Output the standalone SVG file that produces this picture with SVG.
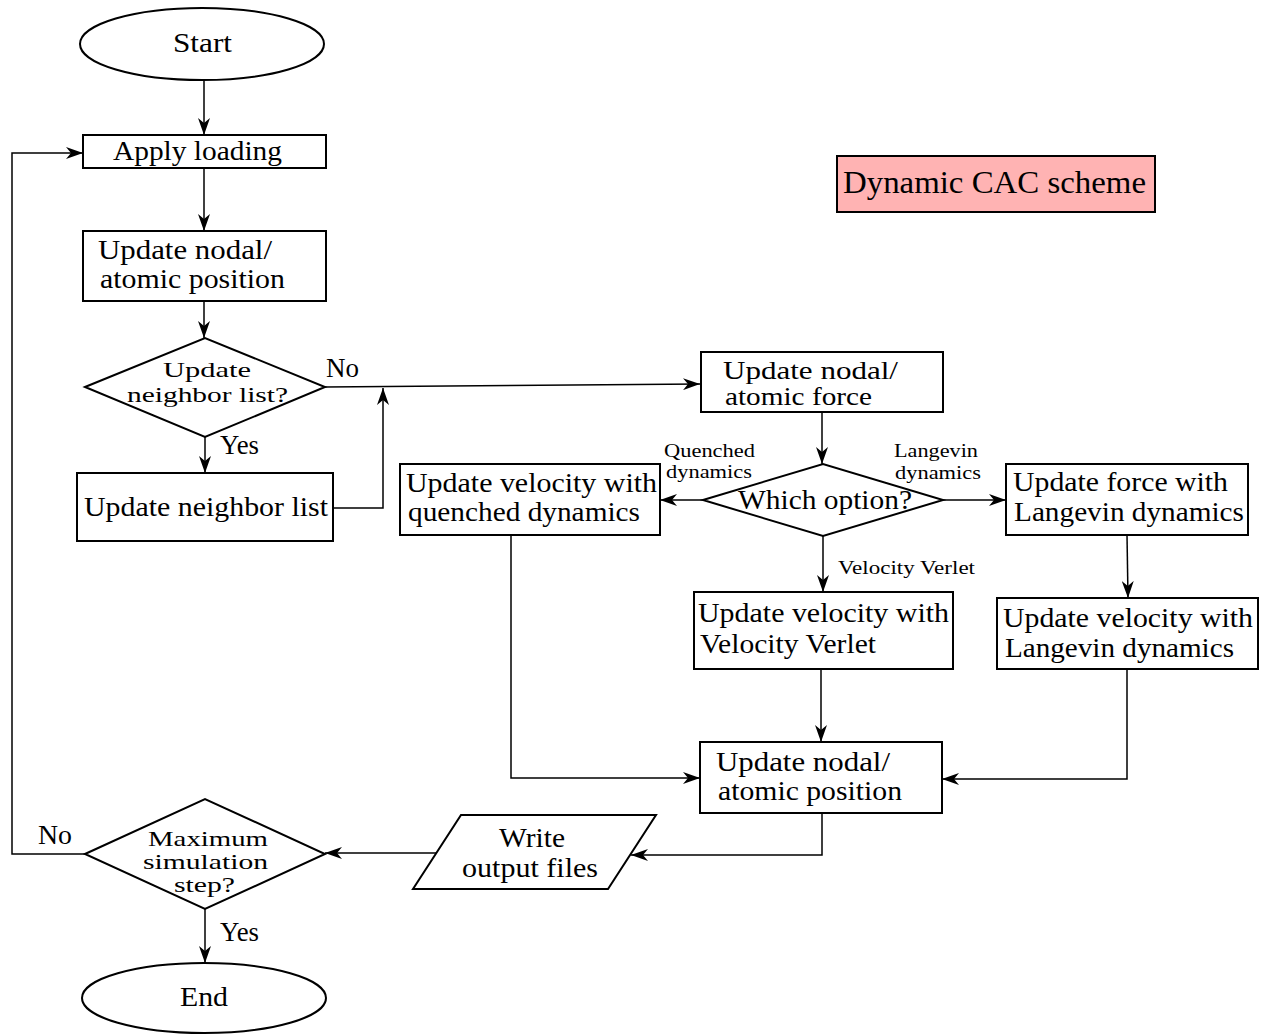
<svg xmlns="http://www.w3.org/2000/svg" width="1262" height="1034" viewBox="0 0 1262 1034">
<style>
.n{fill:#fff;stroke:#000;stroke-width:2}
.t{font-family:"Liberation Serif","Times New Roman",serif;font-size:28px;fill:#000}
.f{font-family:"Liberation Serif","Times New Roman",serif;font-size:25px;fill:#000}
.d{font-family:"Liberation Serif","Times New Roman",serif;font-size:22px;fill:#000}
.s{font-family:"Liberation Serif","Times New Roman",serif;font-size:19px;fill:#000}
.c{fill:none;stroke:#000;stroke-width:1.5}
</style>
<defs>
<marker id="arr" viewBox="0 0 17 12" refX="17" refY="6" markerWidth="17" markerHeight="12" markerUnits="userSpaceOnUse" orient="auto">
<path d="M0,0 L17,6 L0,12 L5,6 z" fill="#000"/>
</marker>
</defs>
<rect width="1262" height="1034" fill="#fff"/>
<g id="connectors">
<path class="c" d="M204,80 V135" marker-end="url(#arr)"/>
<path class="c" d="M204,168 V231" marker-end="url(#arr)"/>
<path class="c" d="M204,301 V338" marker-end="url(#arr)"/>
<path class="c" d="M325,387 L700,384" marker-end="url(#arr)"/>
<path class="c" d="M205,437 V473" marker-end="url(#arr)"/>
<path class="c" d="M333,508 H383 V388" marker-end="url(#arr)"/>
<path class="c" d="M822,412 V464" marker-end="url(#arr)"/>
<path class="c" d="M703,500 H660" marker-end="url(#arr)"/>
<path class="c" d="M943,500 H1006" marker-end="url(#arr)"/>
<path class="c" d="M823,536 V592" marker-end="url(#arr)"/>
<path class="c" d="M1127,535 L1128,598" marker-end="url(#arr)"/>
<path class="c" d="M511,535 V778 H700" marker-end="url(#arr)"/>
<path class="c" d="M821,669 V742" marker-end="url(#arr)"/>
<path class="c" d="M1127,669 V779 H942" marker-end="url(#arr)"/>
<path class="c" d="M822,813 V855 H631" marker-end="url(#arr)"/>
<path class="c" d="M436,853 H325" marker-end="url(#arr)"/>
<path class="c" d="M85,854 H12 V153 H83" marker-end="url(#arr)"/>
<path class="c" d="M205,909 V963" marker-end="url(#arr)"/>
<text class="t" x="326" y="377" textLength="33" lengthAdjust="spacingAndGlyphs">No</text>
<text class="t" x="220" y="454" textLength="39" lengthAdjust="spacingAndGlyphs">Yes</text>
<text class="s" x="664" y="457" textLength="91" lengthAdjust="spacingAndGlyphs">Quenched</text>
<text class="s" x="666" y="478" textLength="86" lengthAdjust="spacingAndGlyphs">dynamics</text>
<text class="s" x="894" y="457" textLength="84" lengthAdjust="spacingAndGlyphs">Langevin</text>
<text class="s" x="895" y="479" textLength="86" lengthAdjust="spacingAndGlyphs">dynamics</text>
<text class="s" x="838" y="574" textLength="137" lengthAdjust="spacingAndGlyphs">Velocity Verlet</text>
<text class="t" x="38" y="844" textLength="34" lengthAdjust="spacingAndGlyphs">No</text>
<text class="t" x="220" y="941" textLength="39" lengthAdjust="spacingAndGlyphs">Yes</text>
</g>
<g id="start">
<ellipse class="n" cx="202" cy="44" rx="122" ry="36"/>
<text class="t" x="173" y="52" textLength="59" lengthAdjust="spacingAndGlyphs">Start</text>
</g>
<g id="apply">
<rect class="n" x="83" y="135" width="243" height="33" stroke-width="1.5"/>
<text class="t" x="113" y="160" textLength="169" lengthAdjust="spacingAndGlyphs">Apply loading</text>
</g>
<g id="pos1">
<rect class="n" x="83" y="231" width="243" height="70"/>
<text class="t" x="98" y="259" textLength="174" lengthAdjust="spacingAndGlyphs">Update nodal/</text>
<text class="t" x="100" y="288" textLength="185" lengthAdjust="spacingAndGlyphs">atomic position</text>
</g>
<g id="dec1">
<polygon class="n" points="85,387 205,338 325,387 205,437"/>
<text class="d" x="163" y="377" textLength="88" lengthAdjust="spacingAndGlyphs">Update</text>
<text class="d" x="127" y="402" textLength="161" lengthAdjust="spacingAndGlyphs">neighbor list?</text>
</g>
<g id="neigh">
<rect class="n" x="77" y="473" width="256" height="68"/>
<text class="t" x="84" y="516" textLength="244" lengthAdjust="spacingAndGlyphs">Update neighbor list</text>
</g>
<g id="force">
<rect class="n" x="701" y="352" width="242" height="60"/>
<text class="f" x="723" y="379" textLength="175" lengthAdjust="spacingAndGlyphs">Update nodal/</text>
<text class="f" x="725" y="405" textLength="147" lengthAdjust="spacingAndGlyphs">atomic force</text>
</g>
<g id="option">
<polygon class="n" points="703,500 823,464 943,500 823,536"/>
<text class="t" x="738" y="509" textLength="174" lengthAdjust="spacingAndGlyphs">Which option?</text>
</g>
<g id="quenched">
<rect class="n" x="400" y="464" width="260" height="71"/>
<text class="t" x="406" y="492" textLength="251" lengthAdjust="spacingAndGlyphs">Update velocity with</text>
<text class="t" x="408" y="521" textLength="232" lengthAdjust="spacingAndGlyphs">quenched dynamics</text>
</g>
<g id="langforce">
<rect class="n" x="1006" y="464" width="242" height="71"/>
<text class="t" x="1013" y="491" textLength="215" lengthAdjust="spacingAndGlyphs">Update force with</text>
<text class="t" x="1014" y="521" textLength="230" lengthAdjust="spacingAndGlyphs">Langevin dynamics</text>
</g>
<g id="verlet">
<rect class="n" x="694" y="592" width="259" height="77"/>
<text class="t" x="698" y="622" textLength="251" lengthAdjust="spacingAndGlyphs">Update velocity with</text>
<text class="t" x="700" y="653" textLength="176" lengthAdjust="spacingAndGlyphs">Velocity Verlet</text>
</g>
<g id="langvel">
<rect class="n" x="997" y="598" width="261" height="71"/>
<text class="t" x="1003" y="627" textLength="250" lengthAdjust="spacingAndGlyphs">Update velocity with</text>
<text class="t" x="1005" y="657" textLength="229" lengthAdjust="spacingAndGlyphs">Langevin dynamics</text>
</g>
<g id="pos2">
<rect class="n" x="700" y="742" width="242" height="71"/>
<text class="t" x="716" y="771" textLength="174" lengthAdjust="spacingAndGlyphs">Update nodal/</text>
<text class="t" x="718" y="800" textLength="184" lengthAdjust="spacingAndGlyphs">atomic position</text>
</g>
<g id="output">
<polygon class="n" points="461,815 656,815 608,889 413,889" stroke-width="1.5"/>
<text class="t" x="499" y="847" textLength="66" lengthAdjust="spacingAndGlyphs">Write</text>
<text class="t" x="462" y="877" textLength="136" lengthAdjust="spacingAndGlyphs">output files</text>
</g>
<g id="dec2">
<polygon class="n" points="85,854 205,799 325,854 205,909"/>
<text class="d" x="148" y="846" textLength="120" lengthAdjust="spacingAndGlyphs">Maximum</text>
<text class="d" x="143" y="869" textLength="125" lengthAdjust="spacingAndGlyphs">simulation</text>
<text class="d" x="174" y="892" textLength="61" lengthAdjust="spacingAndGlyphs">step?</text>
</g>
<g id="end">
<ellipse class="n" cx="204" cy="998" rx="122" ry="35"/>
<text class="t" x="180" y="1006" textLength="48" lengthAdjust="spacingAndGlyphs">End</text>
</g>
<g id="title">
<rect x="837" y="156" width="318" height="56" fill="#ffb3b3" stroke="#000" stroke-width="2"/>
<text class="t" x="843" y="193" style="font-size:31px" textLength="303" lengthAdjust="spacingAndGlyphs">Dynamic CAC scheme</text>
</g>
</svg>
